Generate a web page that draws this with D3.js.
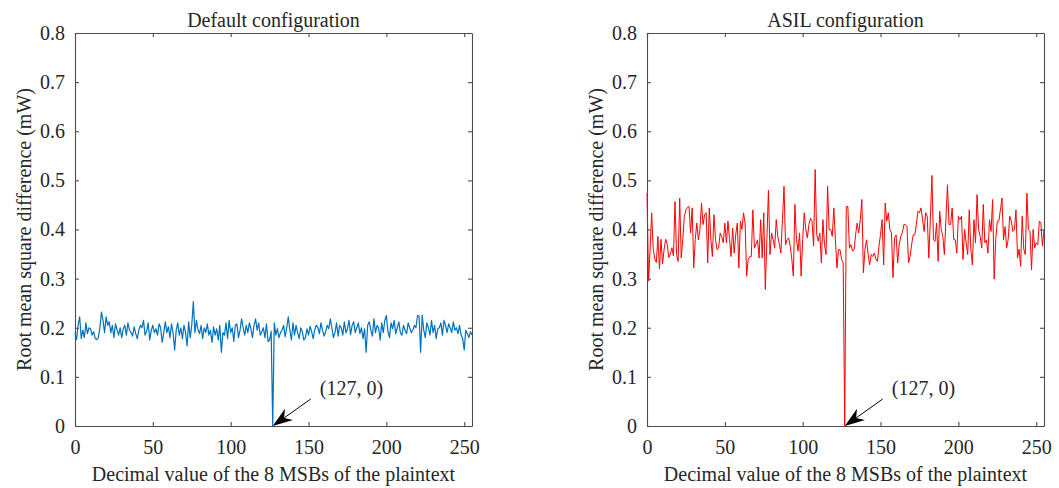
<!DOCTYPE html>
<html>
<head>
<meta charset="utf-8">
<script src="https://cdn.jsdelivr.net/npm/d3@7/dist/d3.min.js"></script>
<style>
body{margin:0;background:#fff}
text{font-family:"Liberation Serif","Times New Roman",serif;fill:#262626}
.axis path,.axis line{stroke:#4d4d4d;stroke-width:1.1}
</style>
</head>
<body>
<svg id="chart" width="1059" height="488"></svg>
<script>
var xTicks = [0, 50, 100, 150, 200, 250]
var yTicks = [0, 0.1, 0.2, 0.3, 0.4, 0.5, 0.6, 0.7, 0.8]
var panelTitles = ['Default configuration', 'ASIL configuration']
var xLabel = 'Decimal value of the 8 MSBs of the plaintext'
var yLabel = 'Root mean square difference (mW)'
var markPoint = [127, 0]
var markText = '(127, 0)'

// rms difference per plaintext byte value (0..255)
var defaultRms = [
.190,.176,.205,.222,.178,.195,.180,.210,.188,.200,.198,.185,.192,.178,.176,.180,
.200,.232,.215,.190,.222,.205,.212,.190,.205,.180,.208,.196,.185,.200,.180,.198,
.205,.185,.210,.195,.190,.183,.202,.188,.178,.195,.205,.200,.215,.185,.193,.210,
.175,.195,.205,.190,.198,.185,.208,.200,.170,.190,.212,.190,.202,.180,.208,.190,
.155,.195,.210,.185,.200,.178,.205,.190,.163,.212,.180,.205,.253,.190,.215,.196,
.188,.205,.178,.200,.190,.208,.185,.195,.170,.202,.185,.198,.175,.205,.150,.190,
.185,.210,.178,.215,.190,.200,.172,.205,.208,.180,.195,.218,.200,.185,.205,.190,
.210,.198,.180,.205,.218,.195,.210,.185,.192,.200,.180,.208,.172,.175,.193,0,
.210,.185,.198,.180,.190,.195,.205,.182,.200,.222,.195,.175,.210,.185,.205,.190,
.178,.200,.192,.175,.180,.198,.185,.203,.192,.178,.196,.205,.200,.188,.210,.195,
.183,.192,.205,.198,.218,.200,.180,.190,.210,.183,.205,.200,.185,.212,.190,.198,
.215,.186,.205,.212,.190,.200,.210,.188,.200,.178,.198,.150,.205,.212,.195,.183,
.218,.190,.205,.200,.175,.210,.190,.215,.225,.193,.180,.210,.198,.215,.188,.200,
.212,.190,.185,.205,.195,.188,.210,.200,.190,.195,.205,.200,.225,.224,.150,.226,
.195,.180,.210,.200,.185,.215,.190,.205,.178,.198,.200,.210,.185,.215,.205,.190,
.208,.200,.190,.212,.195,.200,.188,.205,.185,.178,.155,.195,.188,.180,.192,.185
]

var asilRms = [
.474,.295,.360,.434,.360,.340,.333,.386,.320,.380,.330,.360,.380,.370,.343,.350,
.363,.346,.457,.349,.335,.464,.342,.380,.427,.440,.445,.447,.393,.444,.322,.380,
.413,.379,.400,.454,.410,.430,.434,.332,.444,.380,.345,.430,.380,.359,.362,.393,
.385,.373,.413,.373,.417,.380,.345,.403,.352,.390,.413,.322,.417,.400,.434,.413,
.305,.339,.345,.345,.440,.362,.370,.379,.342,.420,.342,.434,.278,.380,.480,.349,
.393,.380,.362,.420,.386,.370,.352,.420,.488,.369,.380,.383,.366,.340,.305,.451,
.380,.356,.393,.305,.380,.434,.400,.383,.410,.423,.417,.366,.522,.390,.376,.393,
.332,.420,.370,.349,.488,.400,.400,.386,.444,.380,.322,.359,.359,.339,.332,0,
.447,.447,.362,.369,.356,.359,.390,.413,.393,.420,.461,.312,.360,.379,.350,.328,
.349,.345,.352,.340,.335,.366,.390,.420,.328,.454,.417,.434,.400,.393,.302,.383,
.389,.332,.370,.386,.393,.410,.410,.406,.332,.345,.370,.389,.389,.410,.437,.434,
.444,.420,.396,.434,.427,.342,.420,.510,.380,.376,.413,.335,.437,.400,.386,.349,
.420,.491,.410,.410,.444,.380,.379,.352,.427,.420,.427,.339,.400,.373,.349,.440,
.360,.328,.420,.373,.471,.400,.386,.362,.451,.373,.379,.352,.420,.396,.461,.299,
.380,.417,.417,.440,.464,.379,.406,.362,.380,.427,.417,.396,.400,.440,.342,.360,
.325,.427,.360,.349,.474,.400,.396,.318,.400,.362,.373,.369,.417,.413,.366,.400
]

var svg = d3.select('#chart')
var top_ = 33, bottom = 426

var panels = [
    {title: panelTitles[0], values: defaultRms, color: '#0072BD', left: 75, right: 472, width: 1.2},
    {title: panelTitles[1], values: asilRms, color: '#FF0000', left: 647, right: 1044, width: 1.0}
]

var yFmt = function (d) { return d === 0 ? '0' : d3.format('.1f')(d) }

panels.forEach(function (p) {
    var x = d3.scaleLinear().domain([0, 255]).range([p.left, p.right])
    var y = d3.scaleLinear().domain([0, 0.8]).range([bottom, top_])
    var g = svg.append('g')

    // data line first so the box sits on top
    var line = d3.line()
        .x(function (d, i) { return x(i) })
        .y(function (d) { return y(d) })
    g.append('path')
        .datum(p.values)
        .attr('d', line)
        .attr('fill', 'none')
        .attr('stroke', p.color)
        .attr('stroke-width', p.width)
        .attr('stroke-linejoin', 'round')

    var xb = g.append('g').attr('class', 'axis')
        .attr('transform', `translate(0,${bottom})`)
        .call(d3.axisBottom(x).tickValues(xTicks).tickSizeInner(-4).tickSizeOuter(0).tickPadding(14))
    var xt = g.append('g').attr('class', 'axis')
        .attr('transform', `translate(0,${top_})`)
        .call(d3.axisTop(x).tickValues(xTicks).tickSizeInner(-4).tickSizeOuter(0).tickFormat(''))
    var yl = g.append('g').attr('class', 'axis')
        .attr('transform', `translate(${p.left},0)`)
        .call(d3.axisLeft(y).tickValues(yTicks).tickFormat(yFmt).tickSizeInner(-4).tickSizeOuter(0).tickPadding(10))
    var yr = g.append('g').attr('class', 'axis')
        .attr('transform', `translate(${p.right},0)`)
        .call(d3.axisRight(y).tickValues(yTicks).tickSizeInner(-4).tickSizeOuter(0).tickFormat(''))

    g.selectAll('.axis text')
        .attr('font-size', 20)
        .style('font-family', '"Liberation Serif","Times New Roman",serif')
        .attr('fill', '#262626')

    g.append('text')
        .attr('x', (p.left + p.right) / 2)
        .attr('y', 27)
        .attr('text-anchor', 'middle')
        .attr('font-size', 20)
        .text(p.title)

    g.append('text')
        .attr('x', (p.left + p.right) / 2)
        .attr('y', 481)
        .attr('text-anchor', 'middle')
        .attr('font-size', 20)
        .text(xLabel)

    g.append('text')
        .attr('transform', `translate(${p.left - 44},${(top_ + bottom) / 2}) rotate(-90)`)
        .attr('text-anchor', 'middle')
        .attr('font-size', 20)
        .text(yLabel)

    // annotation arrow to the minimum
    var tx = x(markPoint[0]), ty = y(markPoint[1])
    var sx = tx + 38, sy = ty - 27
    var len = Math.hypot(sx - tx, sy - ty)
    var ux = (sx - tx) / len, uy = (sy - ty) / len
    var nx = -uy, ny = ux
    var L = 20, W = 7
    g.append('line')
        .attr('x1', sx).attr('y1', sy)
        .attr('x2', tx + ux * L * 0.7).attr('y2', ty + uy * L * 0.7)
        .attr('stroke', '#000').attr('stroke-width', 1)
    g.append('path')
        .attr('d', `M${tx},${ty} L${tx + ux * L + nx * W},${ty + uy * L + ny * W} L${tx + ux * L * 0.7},${ty + uy * L * 0.7} L${tx + ux * L - nx * W},${ty + uy * L - ny * W} Z`)
        .attr('fill', '#000')
    g.append('text')
        .attr('x', tx + 47)
        .attr('y', ty - 31)
        .attr('font-size', 20)
        .text(markText)
})
</script>
</body>
</html>
